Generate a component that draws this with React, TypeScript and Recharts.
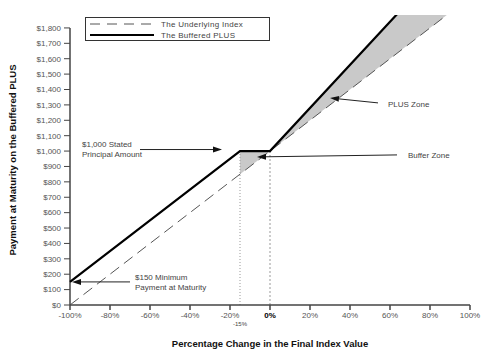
import React from 'react';
import {
  ComposedChart,
  Line,
  Area,
  XAxis,
  YAxis,
  ReferenceLine,
  ReferenceDot,
  Legend
} from 'recharts';

const FONT = '"Liberation Sans", Arial, sans-serif';

// percentage change in the final index value
const CHANGES = [-100, -15, 0, 100];
// payment at maturity ($)
const UNDERLYING = [0, 850, 1000, 2000];
const BUFFERED = [150, 1000, 1000, 2400];

const X_TICKS = [-100, -80, -60, -40, -20, 0, 20, 40, 60, 80, 100];
const Y_TICKS = [0, 100, 200, 300, 400, 500, 600, 700, 800, 900, 1000, 1100, 1200, 1300, 1400, 1500, 1600, 1700, 1800];

const data = CHANGES.map((c, i) => ({
  change: c,
  underlying: UNDERLYING[i],
  buffered: BUFFERED[i],
  zone: c >= -15 ? [UNDERLYING[i], BUFFERED[i]] : null
}));

const money = (v: number) => '$' + v.toLocaleString('en-US');

// arrow drawn between two points given by the reference line segment
const arrow = (p: any) => {
  const { x1, y1, x2, y2 } = p;
  const a = Math.atan2(y2 - y1, x2 - x1);
  const L = 9;
  const W = 3;
  const bx = x2 - L * Math.cos(a);
  const by = y2 - L * Math.sin(a);
  const nx = -Math.sin(a) * W;
  const ny = Math.cos(a) * W;
  return (
    <g>
      <line x1={x1} y1={y1} x2={bx} y2={by} stroke="#222" strokeWidth={1} />
      <polygon points={`${x2},${y2} ${bx + nx},${by + ny} ${bx - nx},${by - ny}`} fill="#111" />
    </g>
  );
};

const note = (lines: string[]) => (p: any) => (
  <text x={p.cx} y={p.cy} fontSize={8} fill="#444" fontFamily={FONT} dominantBaseline="central">
    {lines.map((l, i) => (
      <tspan key={i} x={p.cx} dy={i === 0 ? 0 : 10}>{l}</tspan>
    ))}
  </text>
);

const XTick = (p: any) => {
  const v = p.payload.value;
  const zero = v === 0;
  return (
    <text
      x={p.x}
      y={p.y + 6}
      textAnchor="middle"
      fontSize={8}
      fontFamily={FONT}
      fontWeight={zero ? 'bold' : 'normal'}
      fill={zero ? '#000' : '#555'}
    >
      {v + '%'}
    </text>
  );
};

const LEGEND_ORDER = ['underlying', 'buffered'];

const renderLegend = (props: any) => {
  const items = (props.payload || [])
    .filter((e: any) => LEGEND_ORDER.includes(e.dataKey))
    .sort((a: any, b: any) => LEGEND_ORDER.indexOf(a.dataKey) - LEGEND_ORDER.indexOf(b.dataKey));
  return (
    <div
      style={{
        position: 'relative',
        width: 185,
        height: 24,
        border: '1px solid #333',
        boxSizing: 'border-box',
        background: '#fff',
        fontFamily: FONT,
        fontSize: 8,
        color: '#444'
      }}
    >
      {items.map((e: any, i: number) => (
        <div key={i} style={{ position: 'absolute', left: 4, top: 1 + i * 11, height: 10, display: 'flex', alignItems: 'center' }}>
          <svg width={64} height={10}>
            <line
              x1={0}
              y1={5}
              x2={64}
              y2={5}
              stroke={e.dataKey === 'underlying' ? '#555' : '#000'}
              strokeWidth={e.dataKey === 'underlying' ? 1 : 2}
              strokeDasharray={e.dataKey === 'underlying' ? '10 7' : undefined}
            />
          </svg>
          <span style={{ marginLeft: 7, letterSpacing: 0.3 }}>{e.value}</span>
        </div>
      ))}
    </div>
  );
};

export default function App() {
  return (
    <div style={{ width: 492, height: 357, background: '#fff' }}>
      <style>{'body{margin:0}'}</style>
      <ComposedChart
        width={492}
        height={357}
        data={data}
        margin={{ top: 15, right: 22, bottom: 0, left: 0 }}
      >
        <XAxis
          dataKey="change"
          type="number"
          domain={[-100, 100]}
          ticks={X_TICKS}
          tick={<XTick />}
          tickSize={5}
          height={52}
          axisLine={{ stroke: '#444', strokeWidth: 1.5 }}
          tickLine={{ stroke: '#444', strokeWidth: 1.5 }}
          label={{
            content: (p: any) => (
              <text
                x={p.viewBox.x + p.viewBox.width / 2}
                y={343}
                textAnchor="middle"
                dominantBaseline="central"
                fontSize={9.5}
                fontWeight="bold"
                fontFamily={FONT}
                fill="#111"
              >
                Percentage Change in the Final Index Value
              </text>
            )
          }}
        />
        <YAxis
          type="number"
          domain={[0, 1884]}
          allowDataOverflow
          ticks={Y_TICKS}
          tickFormatter={money}
          width={70}
          tickSize={6}
          tickMargin={3}
          axisLine={false}
          tickLine={{ stroke: '#444', strokeWidth: 1 }}
          tick={{ fontSize: 8, fill: '#555', fontFamily: FONT }}
          label={{
            content: () => (
              <text
                x={12}
                y={160}
                transform="rotate(-90 12 160)"
                textAnchor="middle"
                dominantBaseline="central"
                fontSize={9.5}
                fontWeight="bold"
                fontFamily={FONT}
                fill="#111"
              >
                Payment at Maturity on the Buffered PLUS
              </text>
            )
          }}
        />
        <Legend
          layout="vertical"
          align="center"
          verticalAlign="middle"
          wrapperStyle={{ top: 17, left: 85, width: 185, height: 24 }}
          content={renderLegend}
        />
        <Area
          dataKey="zone"
          type="linear"
          stroke="none"
          fill="#c9c9c9"
          fillOpacity={1}
          legendType="none"
          isAnimationActive={false}
        />
        <ReferenceLine
          segment={[{ x: -15, y: 0 }, { x: -15, y: 1000 }]}
          stroke="#999"
          strokeDasharray="1 2"
        />
        <ReferenceLine
          segment={[{ x: 0, y: 0 }, { x: 0, y: 1000 }]}
          stroke="#999"
          strokeDasharray="2 2"
        />
        <ReferenceLine
          segment={[{ x: -100, y: 0 }, { x: -100, y: 1800 }]}
          stroke="#444"
          strokeWidth={1.5}
        />
        <Line
          dataKey="underlying"
          name="The Underlying Index"
          type="linear"
          stroke="#555"
          strokeWidth={1}
          strokeDasharray="11 6"
          dot={false}
          isAnimationActive={false}
        />
        <Line
          dataKey="buffered"
          name="The Buffered PLUS"
          type="linear"
          stroke="#000"
          strokeWidth={2.2}
          dot={false}
          isAnimationActive={false}
        />
        <ReferenceLine segment={[{ x: -65, y: 1010 }, { x: -24, y: 1010 }]} shape={arrow} />
        <ReferenceLine segment={[{ x: -70, y: 150 }, { x: -99, y: 150 }]} shape={arrow} />
        <ReferenceLine segment={[{ x: 54, y: 1313 }, { x: 30, y: 1345 }]} shape={arrow} />
        <ReferenceLine segment={[{ x: 63.5, y: 975 }, { x: -6.5, y: 962 }]} shape={arrow} />
        <ReferenceDot x={-94} y={1046} r={0} shape={note(['$1,000 Stated', 'Principal Amount'])} />
        <ReferenceDot x={-67.5} y={182} r={0} shape={note(['$150 Minimum', 'Payment at Maturity'])} />
        <ReferenceDot x={59} y={1306} r={0} shape={note(['PLUS Zone'])} />
        <ReferenceDot x={69} y={975} r={0} shape={note(['Buffer Zone'])} />
        <ReferenceLine
          segment={[{ x: -15, y: 0 }, { x: -15, y: 1 }]}
          stroke="none"
          label={{ value: '-15%', position: 'bottom', offset: 17, fontSize: 6, fill: '#444', fontFamily: FONT }}
        />
      </ComposedChart>
    </div>
  );
}
